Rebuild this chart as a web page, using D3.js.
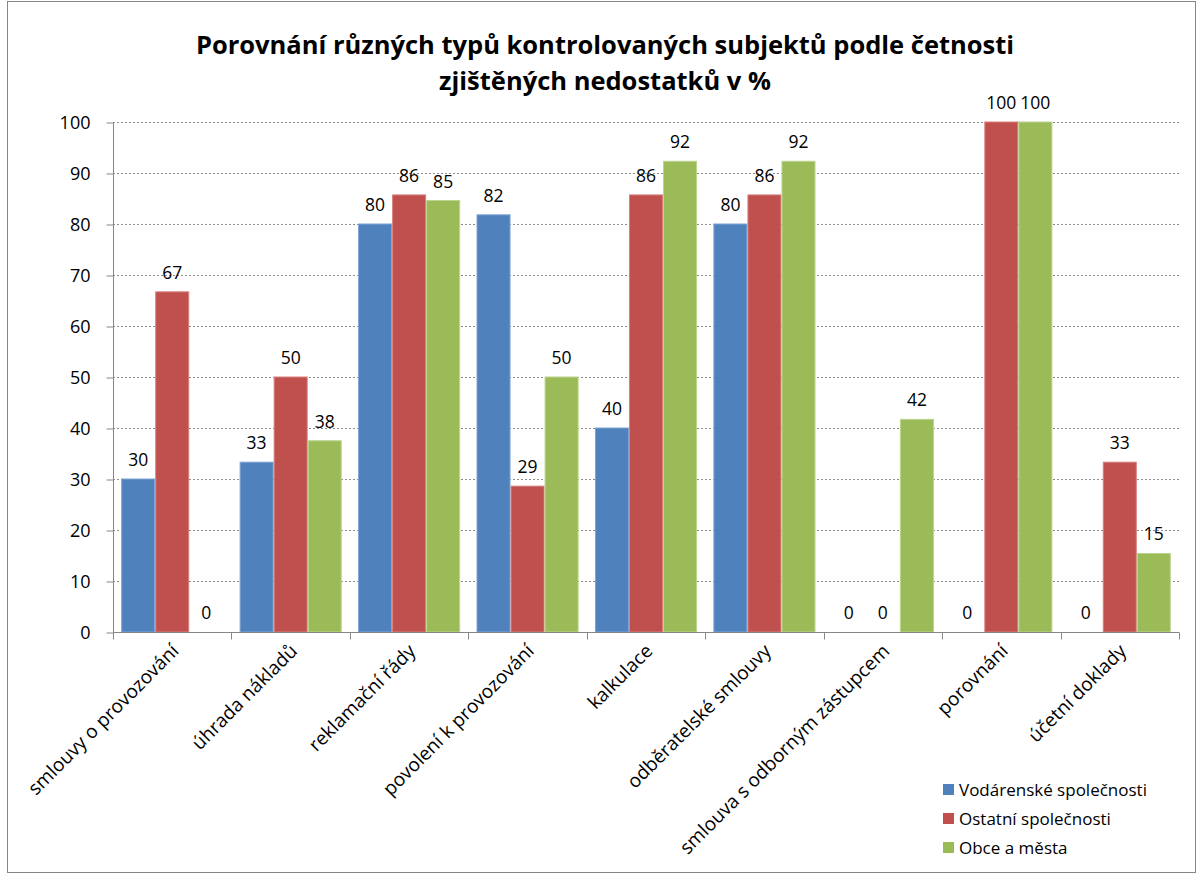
<!DOCTYPE html>
<html>
<head>
<meta charset="utf-8">
<script src="https://cdn.jsdelivr.net/npm/d3@7"></script>
<style>
  body { margin: 0; background: #fff; }
  svg text { font-family: "Open Sans", sans-serif; fill: #000; }
</style>
</head>
<body>
<div id="chart"></div>
<script>
const categories = [
  'smlouvy o provozování', 'úhrada nákladů', 'reklamační řády',
  'povolení k provozování', 'kalkulace', 'odběratelské smlouvy',
  'smlouva s odborným zástupcem', 'porovnání', 'účetní doklady'
];
const seriesNames = ['Vodárenské společnosti', 'Ostatní společnosti', 'Obce a města'];
const vodarenske = [30, 33.3, 80, 81.8, 40, 80, 0, 0, 0];
const ostatni = [66.7, 50, 85.7, 28.6, 85.7, 85.7, 0, 100, 33.3];
const obce = [0, 37.5, 84.6, 50, 92.3, 92.3, 41.7, 100, 15.4];
const yTicks = [0, 10, 20, 30, 40, 50, 60, 70, 80, 90, 100];
const titleLines = ['Porovnání různých typů kontrolovaných subjektů podle četnosti', 'zjištěných nedostatků v %'];

const colors = ['#4F81BD', '#C0504D', '#9BBB59'];
const strokes = ['#7FA4D4', '#D8807E', '#BCD48E'];
const series = [vodarenske, ostatni, obce];

const width = 1198, height = 875;
const plot = {left: 113, right: 1179, top: 122, bottom: 632};

const svg = d3.select('#chart').append('svg')
  .attr('width', width)
  .attr('height', height);

// chart frame
svg.append('rect')
  .attr('x', 7.5).attr('y', 1.5)
  .attr('width', 1188).attr('height', 871)
  .attr('fill', '#fff')
  .attr('stroke', '#868686');

// title
svg.append('g').selectAll('text')
  .data(titleLines)
  .join('text')
    .attr('x', 605)
    .attr('y', (d, i) => 54 + i * 36)
    .attr('text-anchor', 'middle')
    .style('font-weight', 'bold')
    .style('font-size', '25.5px')
    .text(d => d);

const y = d3.scaleLinear().domain([0, 100]).range([plot.bottom, plot.top]);
const x0 = d3.scaleBand()
  .domain(d3.range(categories.length))
  .range([plot.left, plot.right])
  .paddingInner(0.138)
  .paddingOuter(0.069);
const x1 = d3.scaleBand()
  .domain(d3.range(series.length))
  .range([0, x0.bandwidth()]);

// gridlines
svg.append('g').selectAll('line')
  .data(yTicks.filter(t => t > 0))
  .join('line')
    .attr('x1', plot.left).attr('x2', plot.right)
    .attr('y1', d => Math.round(y(d)) + 0.5)
    .attr('y2', d => Math.round(y(d)) + 0.5)
    .attr('stroke', '#8c8c8c')
    .attr('stroke-dasharray', '2,2');

// y axis
const yAxis = svg.append('g')
  .attr('transform', `translate(${plot.left + 0.5},0.5)`)
  .call(d3.axisLeft(y).tickValues(yTicks).tickSize(7).tickPadding(16));
yAxis.selectAll('line, path').attr('stroke', '#868686');
yAxis.select('.domain').attr('d', `M0,${plot.top}V${plot.bottom}`);
yAxis.selectAll('text')
  .style('font-size', '18px')
  .attr('dy', '0.36em');

// bars
const groups = svg.append('g').selectAll('g')
  .data(categories.map((c, i) => i))
  .join('g')
    .attr('transform', i => `translate(${x0(i)},0)`);

groups.selectAll('rect')
  .data(i => series.map((s, k) => ({k, v: s[i]})))
  .join('rect')
    .attr('x', d => x1(d.k) + 0.5)
    .attr('y', d => y(d.v))
    .attr('width', x1.bandwidth() - 1)
    .attr('height', d => y(0) - y(d.v))
    .attr('fill', d => colors[d.k])
    .attr('stroke', d => d.v > 0 ? strokes[d.k] : 'none')
    .attr('stroke-width', 1);

groups.selectAll('text')
  .data(i => series.map((s, k) => ({k, v: s[i]})))
  .join('text')
    .attr('x', d => x1(d.k) + x1.bandwidth() / 2)
    .attr('y', d => y(d.v) - 13)
    .attr('text-anchor', 'middle')
    .style('font-size', '17.5px')
    .text(d => Math.round(d.v));

// x axis
const xAxis = svg.append('g')
  .attr('transform', `translate(0,${plot.bottom + 0.5})`);
xAxis.append('line')
  .attr('x1', plot.left).attr('x2', plot.right)
  .attr('stroke', '#868686');
xAxis.selectAll('line.tick')
  .data(d3.range(categories.length + 1))
  .join('line')
    .attr('class', 'tick')
    .attr('x1', i => Math.round(plot.left + i * x0.step()) + 0.5)
    .attr('x2', i => Math.round(plot.left + i * x0.step()) + 0.5)
    .attr('y1', 0).attr('y2', 7)
    .attr('stroke', '#868686');
xAxis.selectAll('text')
  .data(categories)
  .join('text')
    .attr('transform', (d, i) => `translate(${x0(i) + x0.bandwidth() / 2 + 3},${15}) rotate(-45)`)
    .attr('text-anchor', 'end')
    .attr('dy', '0.35em')
    .style('font-size', '19px')
    .text(d => d);

// legend
const legend = svg.append('g').selectAll('g')
  .data(seriesNames)
  .join('g')
    .attr('transform', (d, i) => `translate(943,${784 + i * 29})`);
legend.append('rect')
  .attr('width', 11).attr('height', 11)
  .attr('fill', (d, i) => colors[i]);
legend.append('text')
  .attr('x', 16).attr('y', 6)
  .attr('dy', '0.35em')
  .style('font-size', '17px')
  .text(d => d);
</script>
</body>
</html>
